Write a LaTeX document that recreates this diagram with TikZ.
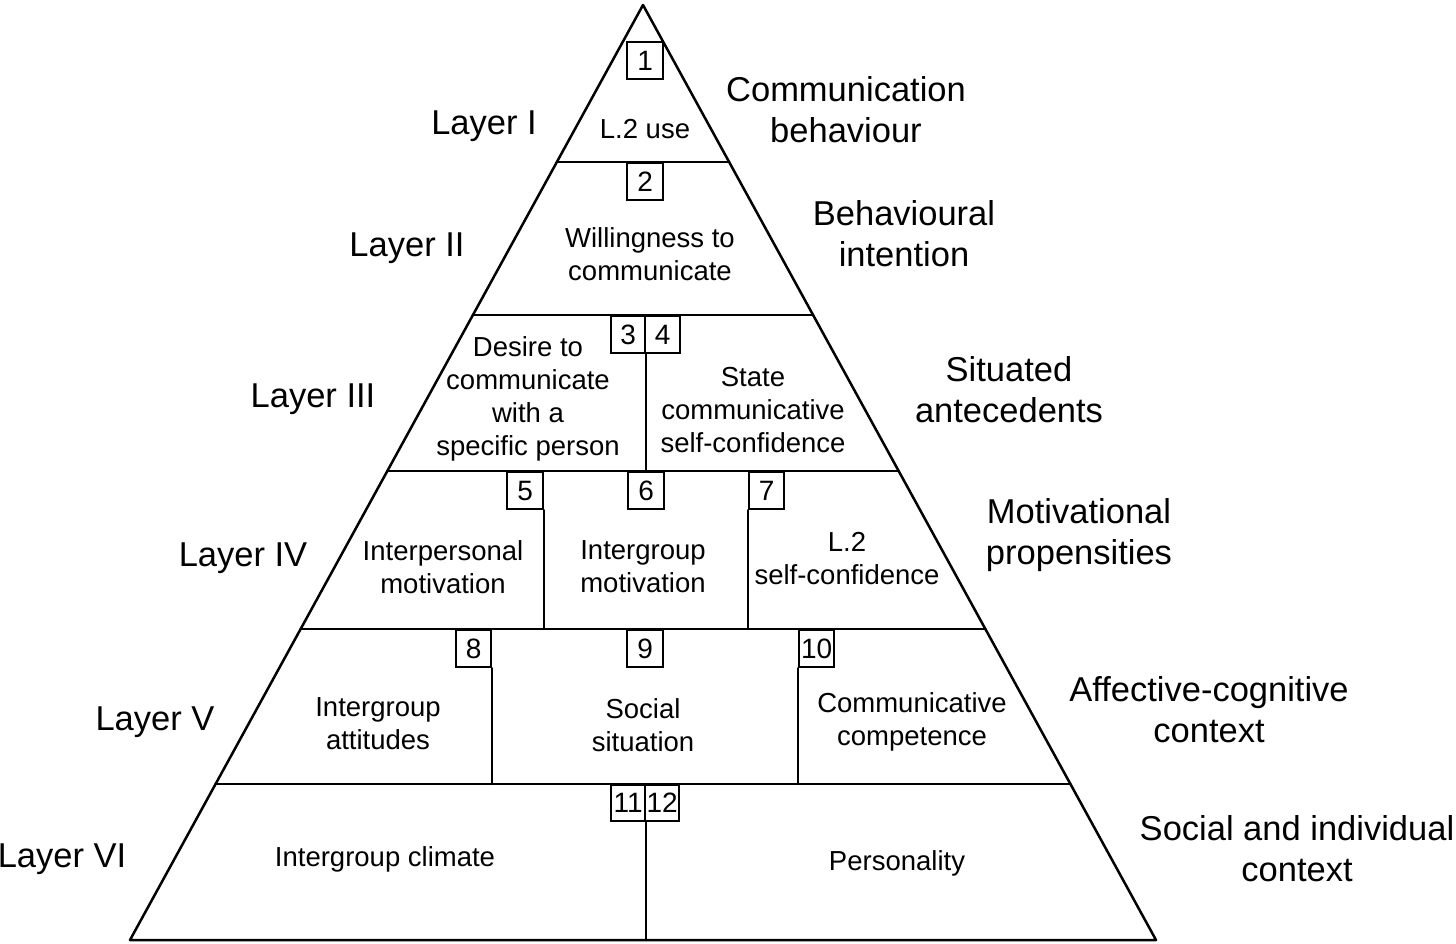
\documentclass[tikz,border=0pt]{standalone}
\usepackage{fontspec}
\setmainfont{Liberation Sans}
\usetikzlibrary{calc}
\tikzset{
  edge/.style={line width=2.5pt, line cap=round, line join=round},
  numbox/.style={draw, line width=2.2pt, fill=white, inner sep=0pt, minimum width=36pt, minimum height=37pt, anchor=north west, font=\fontsize{28}{28}\selectfont},
  side/.style={font=\fontsize{34.5}{41}\selectfont, align=center, inner sep=0pt},
  inner/.style={font=\fontsize{27.5}{33}\selectfont, align=center, inner sep=0pt},
}
\begin{document}
\begin{tikzpicture}[x=1pt, y=-1pt]
\useasboundingbox (0,0) rectangle (1456,943);
\fill[white] (0,0) rectangle (1456,943);
% triangle corners
\coordinate (A) at (643,5);
\coordinate (BL) at (130,940);
\coordinate (BR) at (1156,940);
% layer boundaries
\foreach \n/\yy in {1/162,2/315,3/471,4/629,5/784}{
  \coordinate (L\n) at ($(A)!{(\yy-5)/935}!(BL)$);
  \coordinate (R\n) at ($(A)!{(\yy-5)/935}!(BR)$);
}
\draw[edge] (A) -- (BL) -- (BR) -- cycle;
\foreach \n in {1,...,5}{ \draw[edge] (L\n) -- (R\n); }

% numbered boxes
\node[numbox] (b1) at (626,41) {1};
\node[numbox] (b2) at (626,162) {2};
\node[numbox, minimum width=34pt] (b3) at (610,315) {3};
\node[numbox, minimum width=35pt] (b4) at (644,315) {4};
\node[numbox] (b5) at (506,471) {5};
\node[numbox] (b6) at (627,471) {6};
\node[numbox, minimum width=35pt] (b7) at (748,471) {7};
\node[numbox, minimum width=35pt] (b8) at (455,629) {8};
\node[numbox] (b9) at (626,629) {9};
\node[numbox, minimum width=35pt] (b10) at (798,629) {10};
\node[numbox, minimum width=34pt, minimum height=36pt] (b11) at (610,784) {11};
\node[numbox, minimum width=34pt, minimum height=36pt] (b12) at (644,784) {12};

% vertical dividers
\draw[edge] (b3.south east) -- (b3.south east |- L3);
\draw[edge] (b5.south east) -- (b5.south east |- L4);
\draw[edge] (b7.south west) -- (b7.south west |- L4);
\draw[edge] (b8.south east) -- (b8.south east |- L5);
\draw[edge] (b10.south west) -- (b10.south west |- L5);
\draw[edge] (b11.south east) -- (b11.south east |- BL);

% inner texts
\node[inner] (t1) at (645,129) {L.2 use};
\node[inner] (t2) at (650,254) {Willingness to\\communicate};
\node[inner] (t3) at (528,399) {Desire to\\communicate\\with a\\specific person};
\node[inner] (t4) at (753,410) {State\\communicative\\self-confidence};
\node[inner] (t5) at (443,567) {Interpersonal\\motivation};
\node[inner] (t6) at (643,567) {Intergroup\\motivation};
\node[inner] (t7) at (847,559) {L.2\\self-confidence};
\node[inner] (t8) at (378,724) {Intergroup\\attitudes};
\node[inner] (t9) at (643,725) {Social\\situation};
\node[inner] (t10) at (912,722) {Communicative\\competence};
\node[inner] (t11) at (385,859) {Intergroup climate};
\node[inner] (t12) at (897,863) {Personality};

% layer labels
\node[side] (l1) at (484,126) {Layer I};
\node[side] (l2) at (407,248) {Layer II};
\node[side] (l3) at (313,399) {Layer III};
\node[side] (l4) at (243,558) {Layer IV};
\node[side] (l5) at (155,722) {Layer V};
\node[side] (l6) at (62,859) {Layer VI};

% right labels
\node[side] (r1) at (846,110) {Communication\\behaviour};
\node[side] (r2) at (904,234) {Behavioural\\intention};
\node[side] (r3) at (1009,390) {Situated\\antecedents};
\node[side] (r4) at (1079,535) {Motivational\\propensities};
\node[side] (r5) at (1209,710) {Affective-cognitive\\context};
\node[side] (r6) at (1297,849) {Social and individual\\context};
\end{tikzpicture}
\end{document}
